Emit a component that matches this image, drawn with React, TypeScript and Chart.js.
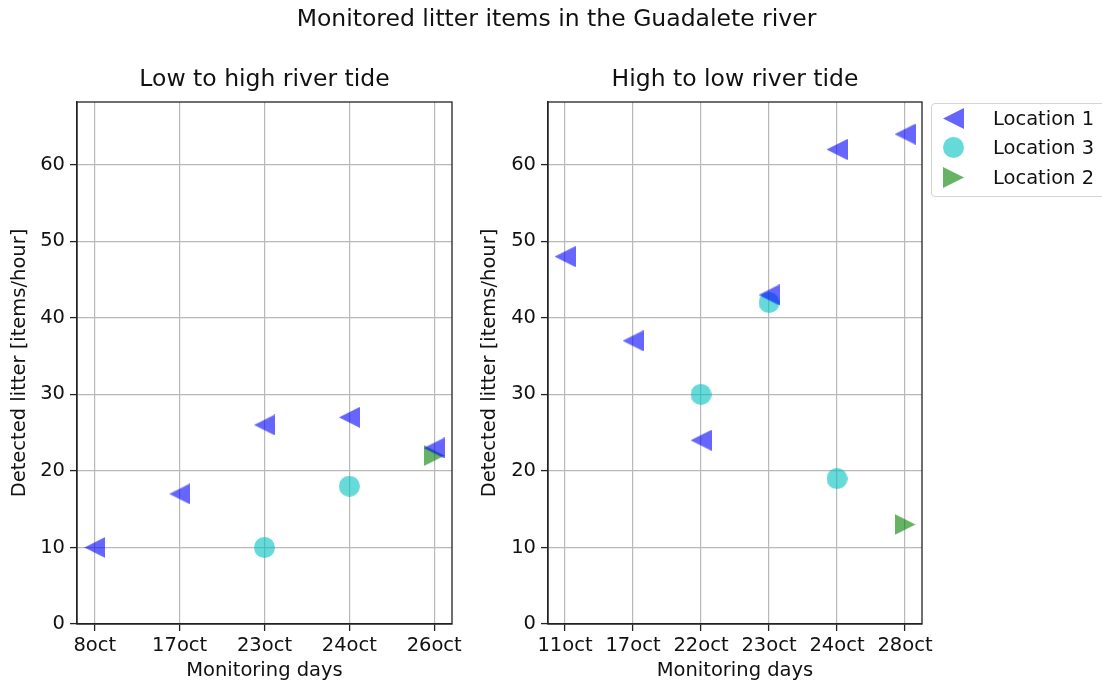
import React, { useEffect, useRef } from 'react';
import { Chart, registerables } from 'chart.js';

Chart.register(...registerables);

// ---------- data ----------
const leftDays = ['8oct', '17oct', '23oct', '24oct', '26oct'];
const leftLocation1 = [10, 17, 26, 27, 23];
const leftLocation3 = [null, null, 10, 18, null];
const leftLocation2 = [null, null, null, null, 22];

const rightDays = ['11oct', '17oct', '22oct', '23oct', '24oct', '28oct'];
const rightLocation1 = [48, 37, 24, 43, 62, 64];
const rightLocation3 = [null, null, 30, 42, 19, null];
const rightLocation2 = [null, null, null, null, null, 13];

const yTicks = [0, 10, 20, 30, 40, 50, 60];
const seriesNames = ['Location 1', 'Location 3', 'Location 2'];

const suptitle = 'Monitored litter items in the Guadalete river';
const leftTitle = 'Low to high river tide';
const rightTitle = 'High to low river tide';
const xLabel = 'Monitoring days';
const yLabel = 'Detected litter [items/hour]';

// ---------- styles ----------
const FONT = '"DejaVu Sans", "Liberation Sans", sans-serif';
const TICK_SIZE = 19.5;
const TITLE_SIZE = 23.5;
const TEXT = '#111111';
const BLUE = 'rgba(0,0,255,0.6)';
const CYAN = 'rgba(0,191,191,0.6)';
const GREEN = 'rgba(0,128,0,0.6)';
const MARKER = 21;

type Kind = 'left' | 'right' | 'circle';

function drawMarker(ctx: CanvasRenderingContext2D, kind: Kind, color: string, size: number, ox = 0, oy = 0) {
  ctx.fillStyle = color;
  ctx.beginPath();
  if (kind === 'left') {
    ctx.moveTo(ox, oy + size / 2);
    ctx.lineTo(ox + size, oy);
    ctx.lineTo(ox + size, oy + size);
  } else if (kind === 'right') {
    ctx.moveTo(ox + size, oy + size / 2);
    ctx.lineTo(ox, oy);
    ctx.lineTo(ox, oy + size);
  } else {
    ctx.arc(ox + size / 2, oy + size / 2, size / 2, 0, Math.PI * 2);
  }
  ctx.closePath();
  ctx.fill();
}

function makeMarker(kind: Kind, color: string, size: number) {
  const c = document.createElement('canvas');
  c.width = size;
  c.height = size;
  const ctx = c.getContext('2d')!;
  drawMarker(ctx, kind, color, size);
  return c;
}

const frame = {
  id: 'frame',
  afterDraw(chart: any) {
    const { ctx, chartArea } = chart;
    ctx.save();
    ctx.strokeStyle = '#222';
    ctx.lineWidth = 1.3;
    ctx.strokeRect(chartArea.left, chartArea.top, chartArea.right - chartArea.left, chartArea.bottom - chartArea.top);
    ctx.restore();
  },
};

function toPoints(values: (number | null)[]) {
  const pts: { x: number; y: number }[] = [];
  values.forEach((v, i) => {
    if (v !== null) pts.push({ x: i, y: v });
  });
  return pts;
}

function buildConfig(
  days: string[],
  s1: (number | null)[],
  s3: (number | null)[],
  s2: (number | null)[],
  xmin: number,
  xmax: number,
  title: string,
  yAxisWidth: number,
  padRight: number
): any {
  const tickFont = { family: FONT, size: TICK_SIZE };
  const ds = (label: string, data: any[], style: any) => ({
    label,
    data,
    pointStyle: style,
    pointRadius: 10,
    pointHoverRadius: 10,
    borderWidth: 0,
    pointBorderWidth: 0,
    showLine: false,
  });
  return {
    type: 'scatter',
    data: {
      datasets: [
        ds(seriesNames[0], toPoints(s1), makeMarker('left', BLUE, MARKER)),
        ds(seriesNames[1], toPoints(s3), makeMarker('circle', CYAN, MARKER)),
        ds(seriesNames[2], toPoints(s2), makeMarker('right', GREEN, MARKER)),
      ],
    },
    options: {
      animation: false,
      responsive: false,
      maintainAspectRatio: false,
      events: [],
      layout: { padding: { left: 0, right: padRight, top: 0, bottom: 0 } },
      plugins: {
        legend: { display: false },
        tooltip: { enabled: false },
        title: {
          display: true,
          text: title,
          fullSize: false,
          color: TEXT,
          font: { family: FONT, size: TITLE_SIZE, weight: 'normal', lineHeight: 1.2 },
          padding: { top: 66, bottom: 7.8 },
        },
      },
      scales: {
        x: {
          type: 'linear',
          min: xmin,
          max: xmax,
          afterBuildTicks: (s: any) => {
            s.ticks = days.map((_, i) => ({ value: i }));
          },
          afterFit: (s: any) => {
            s.height = 61;
          },
          ticks: {
            autoSkip: false,
            maxRotation: 0,
            padding: 3,
            color: TEXT,
            font: tickFont,
            callback: (v: number) => days[Math.round(v)] ?? '',
          },
          grid: { color: '#b8b8b8', lineWidth: 1.2, tickColor: '#222', tickLength: 7, tickWidth: 1.3 },
          border: { display: true, color: '#222', width: 1.3 },
          title: { display: true, text: xLabel, color: TEXT, font: { ...tickFont, lineHeight: 1.2 }, padding: { top: 0, bottom: 2 } },
        },
        y: {
          type: 'linear',
          min: 0,
          max: 68.2,
          afterBuildTicks: (s: any) => {
            s.ticks = yTicks.map((v) => ({ value: v }));
          },
          afterFit: (s: any) => {
            s.width = yAxisWidth;
          },
          ticks: { padding: 5, color: TEXT, font: tickFont },
          grid: { color: '#b8b8b8', lineWidth: 1.2, tickColor: '#222', tickLength: 7, tickWidth: 1.3 },
          border: { display: true, color: '#222', width: 1.3 },
          title: { display: true, text: yLabel, color: TEXT, font: { ...tickFont, lineHeight: 1.2 }, padding: { top: 7.8, bottom: 0 } },
        },
      },
    },
    plugins: [frame],
  };
}

function LegendMarker({ kind, color }: { kind: Kind; color: string }) {
  const ref = useRef<HTMLCanvasElement>(null);
  useEffect(() => {
    const c = ref.current;
    if (!c) return;
    const ctx = c.getContext('2d')!;
    ctx.clearRect(0, 0, c.width, c.height);
    drawMarker(ctx, kind, color, MARKER);
  }, [kind, color]);
  return <canvas ref={ref} width={MARKER} height={MARKER} style={{ display: 'block' }} />;
}

export default function App() {
  const leftRef = useRef<HTMLCanvasElement>(null);
  const rightRef = useRef<HTMLCanvasElement>(null);

  useEffect(() => {
    const left = new Chart(
      leftRef.current!,
      buildConfig(leftDays, leftLocation1, leftLocation3, leftLocation2, -0.21, 4.21, leftTitle, 77, 18)
    );
    const right = new Chart(
      rightRef.current!,
      buildConfig(rightDays, rightLocation1, rightLocation3, rightLocation2, -0.25, 5.25, rightTitle, 78, 18)
    );
    return () => {
      left.destroy();
      right.destroy();
    };
  }, []);

  const legendItems: { name: string; kind: Kind; color: string }[] = [
    { name: seriesNames[0], kind: 'left', color: BLUE },
    { name: seriesNames[1], kind: 'circle', color: CYAN },
    { name: seriesNames[2], kind: 'right', color: GREEN },
  ];

  return (
    <div style={{ position: 'absolute', left: 0, top: 0, width: 1102, height: 685, overflow: 'hidden', background: '#fff', fontFamily: FONT }}>
      <canvas ref={leftRef} width={470} height={685} style={{ position: 'absolute', left: 0, top: 0 }} />
      <canvas ref={rightRef} width={470} height={685} style={{ position: 'absolute', left: 470, top: 0 }} />
      <div
        style={{
          position: 'absolute',
          left: 556.5,
          top: 7,
          transform: 'translateX(-50%)',
          whiteSpace: 'nowrap',
          fontSize: TITLE_SIZE,
          lineHeight: 1,
          color: TEXT,
        }}
      >
        {suptitle}
      </div>
      <div
        style={{
          position: 'absolute',
          left: 931,
          top: 103,
          width: 175,
          height: 94,
          boxSizing: 'border-box',
          border: '1px solid #d4d4d4',
          borderRadius: 4,
          background: 'rgba(255,255,255,0.85)',
          zIndex: 2,
        }}
      >
        {legendItems.map((it, i) => (
          <React.Fragment key={it.name}>
            <div style={{ position: 'absolute', left: 11, top: 15 - 10.5 + i * 29.5 - 1 }}>
              <LegendMarker kind={it.kind} color={it.color} />
            </div>
            <div
              style={{
                position: 'absolute',
                left: 61,
                top: 15 - 9.4 + i * 29.5 - 1,
                fontSize: TICK_SIZE,
                lineHeight: 1,
                whiteSpace: 'nowrap',
                color: TEXT,
              }}
            >
              {it.name}
            </div>
          </React.Fragment>
        ))}
      </div>
    </div>
  );
}
